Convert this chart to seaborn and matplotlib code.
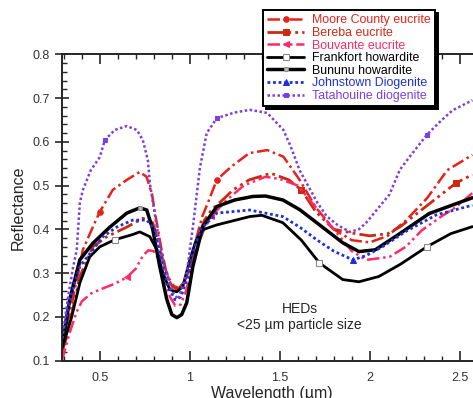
import matplotlib
matplotlib.use("Agg")
import matplotlib.pyplot as plt
import seaborn as sns
import pandas as pd
from matplotlib.ticker import MultipleLocator

# ---------------- data (wavelength in µm, reflectance) ----------------
moore_x = [0.29, 0.35, 0.406, 0.461, 0.50, 0.572, 0.65, 0.722, 0.76, 0.79, 0.81, 0.84, 0.87, 0.90, 0.93,
           0.96, 0.99, 1.03, 1.07, 1.10, 1.15, 1.23, 1.33, 1.43, 1.52, 1.61, 1.70, 1.80, 1.90, 2.00,
           2.10, 2.20, 2.32, 2.43, 2.57]
moore_y = [0.13, 0.24, 0.353, 0.405, 0.44, 0.49, 0.513, 0.531, 0.52, 0.48, 0.43, 0.36, 0.30, 0.27, 0.262,
           0.27, 0.30, 0.37, 0.43, 0.46, 0.513, 0.543, 0.574, 0.581, 0.566, 0.513, 0.45, 0.40, 0.375, 0.37,
           0.385, 0.42, 0.472, 0.535, 0.57]

bereba_x = [0.29, 0.317, 0.389, 0.461, 0.539, 0.65, 0.739, 0.794, 0.82, 0.85, 0.88, 0.91, 0.94, 0.97,
            1.00, 1.04, 1.08, 1.12, 1.19, 1.24, 1.33, 1.45, 1.55, 1.62, 1.70, 1.80, 1.92, 2.00, 2.10,
            2.17, 2.24, 2.38, 2.48, 2.57]
bereba_y = [0.12, 0.155, 0.292, 0.36, 0.383, 0.405, 0.425, 0.415, 0.38, 0.33, 0.29, 0.27, 0.265, 0.28,
            0.31, 0.37, 0.42, 0.444, 0.47, 0.49, 0.513, 0.528, 0.513, 0.49, 0.44, 0.40, 0.39, 0.385, 0.39,
            0.406, 0.429, 0.474, 0.506, 0.525]

bouvante_x = [0.29, 0.33, 0.37, 0.40, 0.45, 0.50, 0.58, 0.65, 0.70, 0.74, 0.77, 0.80, 0.83, 0.86, 0.89,
              0.92, 0.95, 0.98, 1.01, 1.05, 1.08, 1.12, 1.20, 1.30, 1.42, 1.50, 1.60, 1.70, 1.80, 1.90,
              1.98, 2.11, 2.20, 2.29, 2.40, 2.48, 2.57]
bouvante_y = [0.10, 0.16, 0.21, 0.235, 0.253, 0.262, 0.275, 0.29, 0.31, 0.34, 0.352, 0.35, 0.33, 0.29, 0.245,
              0.225, 0.228, 0.26, 0.31, 0.37, 0.40, 0.43, 0.465, 0.50, 0.52, 0.515, 0.50, 0.45, 0.40, 0.35,
              0.33, 0.337, 0.36, 0.398, 0.43, 0.451, 0.483]

frankfort_x = [0.294, 0.344, 0.389, 0.444, 0.50, 0.583, 0.683, 0.722, 0.778, 0.817, 0.85, 0.889, 0.928,
               0.961, 1.00, 1.035, 1.072, 1.15, 1.333, 1.40, 1.517, 1.62, 1.72, 1.85, 1.94, 2.05, 2.17,
               2.317, 2.45, 2.57]
frankfort_y = [0.132, 0.20, 0.277, 0.337, 0.36, 0.376, 0.388, 0.394, 0.383, 0.353, 0.30, 0.262, 0.257,
               0.269, 0.33, 0.375, 0.399, 0.41, 0.429, 0.432, 0.415, 0.375, 0.323, 0.285, 0.28, 0.292, 0.32,
               0.36, 0.39, 0.406]

bununu_x = [0.29, 0.333, 0.389, 0.461, 0.556, 0.65, 0.722, 0.761, 0.794, 0.833, 0.872, 0.90, 0.928, 0.955,
            0.983, 1.017, 1.072, 1.15, 1.25, 1.35, 1.42, 1.517, 1.61, 1.705, 1.85, 1.94, 2.03, 2.17, 2.33,
            2.43, 2.57]
bununu_y = [0.13, 0.24, 0.33, 0.368, 0.405, 0.437, 0.449, 0.444, 0.40, 0.315, 0.24, 0.205, 0.198, 0.205,
            0.232, 0.315, 0.406, 0.452, 0.467, 0.475, 0.476, 0.467, 0.445, 0.415, 0.369, 0.349, 0.353, 0.391,
            0.436, 0.451, 0.472]

johnstown_x = [0.29, 0.333, 0.389, 0.461, 0.517, 0.594, 0.683, 0.761, 0.806, 0.817, 0.85, 0.88, 0.917,
               0.95, 0.983, 1.017, 1.06, 1.111, 1.15, 1.333, 1.517, 1.61, 1.705, 1.80, 1.906, 1.98, 2.07,
               2.20, 2.37, 2.57]
johnstown_y = [0.15, 0.24, 0.315, 0.353, 0.383, 0.405, 0.421, 0.421, 0.399, 0.376, 0.315, 0.27, 0.239,
               0.245, 0.285, 0.346, 0.40, 0.421, 0.437, 0.444, 0.429, 0.405, 0.376, 0.35, 0.33, 0.34, 0.36,
               0.395, 0.433, 0.455]

tatahouine_x = [0.29, 0.322, 0.35, 0.372, 0.389, 0.406, 0.45, 0.50, 0.528, 0.583, 0.65, 0.706, 0.739,
                0.767, 0.778, 0.817, 0.85, 0.906, 0.935, 0.983, 1.017, 1.056, 1.094, 1.15, 1.25, 1.333,
                1.43, 1.52, 1.56, 1.61, 1.67, 1.71, 1.76, 1.82, 1.889, 1.94, 1.98, 2.05, 2.11, 2.167, 2.22,
                2.317, 2.40, 2.46, 2.57]
tatahouine_y = [0.15, 0.24, 0.31, 0.353, 0.46, 0.49, 0.535, 0.565, 0.604, 0.627, 0.636, 0.627, 0.604,
                0.558, 0.505, 0.405, 0.33, 0.255, 0.24, 0.30, 0.405, 0.54, 0.62, 0.654, 0.667, 0.673,
                0.666, 0.627, 0.59, 0.535, 0.49, 0.46, 0.43, 0.41, 0.394, 0.40, 0.415, 0.45, 0.48, 0.536,
                0.565, 0.616, 0.65, 0.672, 0.695]

names = ["Moore County eucrite", "Bereba eucrite", "Bouvante eucrite", "Frankfort howardite",
         "Bununu howardite", "Johnstown Diogenite", "Tatahouine diogenite"]
xs = [moore_x, bereba_x, bouvante_x, frankfort_x, bununu_x, johnstown_x, tatahouine_x]
ys = [moore_y, bereba_y, bouvante_y, frankfort_y, bununu_y, johnstown_y, tatahouine_y]

x_ticks = [0.5, 1.0, 1.5, 2.0, 2.5]
x_ticklabels = ["0.5", "1", "1.5", "2", "2.5"]
y_ticks = [0.1, 0.2, 0.3, 0.4, 0.5, 0.6, 0.7, 0.8]

# ---------------- styles ----------------
styles = [
    dict(color="#e4231b", linestyle=(0, (5, 1.5, 1, 1.5)), lw=1.8, marker="o", ms=4, mec="#e4231b", mfc="#e4231b"),
    dict(color="#c92a12", linestyle=(0, (6, 1.5, 1, 1.5, 1, 1.5)), lw=2.0, marker="s", ms=4, mec="#c92a12", mfc="#c92a12"),
    dict(color="#ff2b68", linestyle=(0, (5, 1.5, 1, 1.5, 1, 1.5)), lw=1.8, marker="<", ms=4, mec="#ff2b68", mfc="#ff2b68"),
    dict(color="black", linestyle="-", lw=2.0, marker="s", ms=4, mec="#888888", mfc="white"),
    dict(color="black", linestyle="-", lw=2.5, marker="o", ms=3, mec="#888888", mfc="#bbbbbb"),
    dict(color="#1f2fe0", linestyle=(0, (1, 1)), lw=2.0, marker="^", ms=4, mec="#1f2fe0", mfc="#1f2fe0"),
    dict(color="#7a3fe0", linestyle=(0, (1, 1)), lw=1.8, marker="s", ms=3.5, mec="#7a3fe0", mfc="#7a3fe0"),
]
marker_at = [[4, 20], [23, 32], [7, 21], [5, 22, 27], [6], [24], [8, 23, 41]]
text_colors = ["#e4231b", "#d12a14", "#ff2b68", "black", "black", "#1f2fe0", "#7a3fe0"]

sns.set_style("ticks")
plt.rcParams["font.family"] = ["Liberation Sans", "DejaVu Sans"]

fig = plt.figure(figsize=(4.73, 3.98), dpi=100)
left = 62 / 473
bottom = 1 - 360.5 / 398
top = 1 - 54.3 / 398
xmin, xmax = 0.29, 2.62
width = (xmax - xmin) * 180 / 473
ax = fig.add_axes([left, bottom, width, top - bottom])

for name, x, y, st, mk in zip(names, xs, ys, styles, marker_at):
    df = pd.DataFrame({"w": x, "r": y})
    kw = dict(st)
    kw["markevery"] = mk
    sns.lineplot(data=df, x="w", y="r", ax=ax, label=name, errorbar=None, sort=False, **kw)

ax.set_xlim(xmin, xmax)
ax.set_ylim(0.1, 0.8)
ax.set_xticks(x_ticks)
ax.set_xticklabels(x_ticklabels)
ax.set_yticks(y_ticks)
ax.set_yticklabels([f"{v:.1f}" for v in y_ticks])
ax.xaxis.set_minor_locator(MultipleLocator(0.1))
ax.yaxis.set_minor_locator(MultipleLocator(0.02))
ax.tick_params(axis="x", which="major", direction="in", length=7, width=1.2, top=True, labelsize=9,
               pad=8, labelcolor="#333333")
ax.tick_params(axis="x", which="minor", direction="in", length=3.5, width=1.0, top=True)
ax.tick_params(axis="y", which="major", direction="inout", length=10, width=1.2, right=True, labelsize=9,
               labelcolor="#333333")
ax.tick_params(axis="y", which="minor", direction="in", length=3.5, width=1.0, right=True)
for sp in ax.spines.values():
    sp.set_linewidth(1.4)
    sp.set_visible(True)

ax.set_xlabel("Wavelength (µm)", fontsize=11.5, labelpad=2)
ax.set_ylabel("Reflectance", fontsize=11.5, labelpad=5)

ax.text(1.61, 0.2, "HEDs\n<25 µm particle size", ha="center", va="center", fontsize=10, linespacing=1.15)

handles, labels = ax.get_legend_handles_labels()
if ax.get_legend():
    ax.get_legend().remove()
leg = fig.legend(handles, labels, loc="upper left", bbox_to_anchor=(263 / 473, 1 - 10 / 398),
                 bbox_transform=fig.transFigure, frameon=True, fancybox=False,
                 shadow={"color": "black", "alpha": 1}, edgecolor="black", framealpha=1,
                 fontsize=8.9, handlelength=3.0, labelspacing=0.05, borderpad=0.35,
                 handletextpad=0.6, borderaxespad=0)
leg.get_frame().set_linewidth(1.4)
for t, c in zip(leg.get_texts(), text_colors):
    t.set_color(c)

fig.savefig("out.png", dpi=100)
